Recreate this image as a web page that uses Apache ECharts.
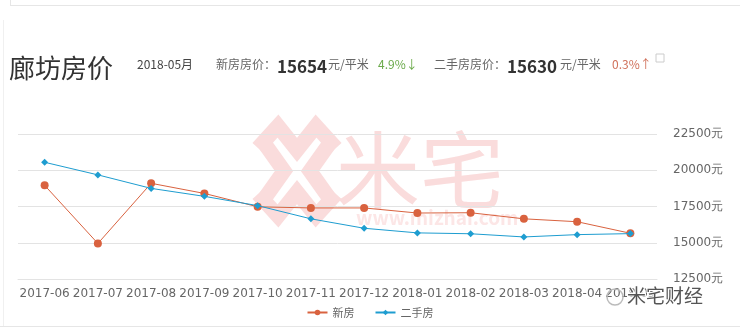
<!DOCTYPE html>
<html><head><meta charset="utf-8">
<script src="https://cdn.jsdelivr.net/npm/echarts@6/dist/echarts.min.js"></script>
<style>html,body{margin:0;padding:0;background:#fff}#c{width:740px;height:329px}</style>
</head><body><div id="c"></div>
<script>
const categories = ['2017-06','2017-07','2017-08','2017-09','2017-10','2017-11','2017-12','2018-01','2018-02','2018-03','2018-04','2018-05'];
const newHouse = [18960, 14950, 19100, 18400, 17480, 17400, 17400, 17050, 17070, 16650, 16450, 15654];
const secondHand = [20550, 19680, 18750, 18200, 17560, 16650, 16000, 15680, 15620, 15400, 15560, 15630];
const seriesNames = ['新房', '二手房'];
const yTicks = {min: 12500, max: 22500, interval: 2500};

const chart = echarts.init(document.getElementById('c'));
const F = '"Noto Sans CJK SC","Noto Sans",sans-serif';
function t(x, y, text, size, color, weight){
  return {type:'text', left:x, top:y, style:{text:text, font:(weight||'normal')+' '+size+'px '+F, fill:color, textVerticalAlign:'middle'}, z:10};
}
const wm = '#fadcdc';
chart.setOption({
  animation:false,
  backgroundColor:'#fff',
  grid:{left:18, right:83, top:134, bottom:50},
  legend:{bottom:6, left:'center', itemWidth:20, itemHeight:7, itemGap:20,
    textStyle:{color:'#666', fontSize:11, fontFamily:F}, data:seriesNames},
  xAxis:{type:'category', data:categories, boundaryGap:true,
    axisLine:{lineStyle:{color:'#e3e3e3'}},
    axisTick:{inside:true, length:9, alignWithLabel:true, lineStyle:{color:'#dcdcdc'}},
    axisLabel:{color:'#666', fontSize:12, margin:9, fontFamily:'"DejaVu Sans",sans-serif', interval:0}},
  yAxis:{type:'value', position:'right', min:yTicks.min, max:yTicks.max, interval:yTicks.interval,
    axisLine:{show:false}, axisTick:{show:false},
    splitLine:{lineStyle:{color:'#e3e3e3'}},
    axisLabel:{color:'#666', fontSize:12, margin:16, fontFamily:'"DejaVu Sans",sans-serif', formatter:function(v){return v + '元';}}},
  series:[
    {name:seriesNames[0], type:'line', data:newHouse, symbol:'circle', symbolSize:8,
      itemStyle:{color:'#d9623f'}, lineStyle:{width:1, color:'#d9623f'}, z:3},
    {name:seriesNames[1], type:'line', data:secondHand, symbol:'diamond', symbolSize:7,
      itemStyle:{color:'#1e9dd0'}, lineStyle:{width:1, color:'#1e9dd0'}, z:4}
  ],
  graphic:[
    {type:'line', shape:{x1:10,y1:5.5,x2:740,y2:5.5}, style:{stroke:'#e6e6e6',lineWidth:1}},
    {type:'line', shape:{x1:10.5,y1:0,x2:10.5,y2:5}, style:{stroke:'#e6e6e6',lineWidth:1}},
    {type:'line', shape:{x1:3.5,y1:20,x2:3.5,y2:326}, style:{stroke:'#f0f0f0',lineWidth:1}},
    {type:'line', shape:{x1:0,y1:326.5,x2:740,y2:326.5}, style:{stroke:'#e6e6e6',lineWidth:1}},
    // watermark logo
    {type:'polyline', shape:{points:[[258,148],[278,126],[297,150],[316,126],[336,148]]}, style:{stroke:wm,lineWidth:15,fill:null}, z:-1},
    {type:'polyline', shape:{points:[[258,194],[278,216],[297,192],[316,216],[336,194]]}, style:{stroke:wm,lineWidth:15,fill:null}, z:-1},
    {type:'polyline', shape:{points:[[262,140],[284,171],[262,202]]}, style:{stroke:wm,lineWidth:15,fill:null}, z:-1},
    {type:'polyline', shape:{points:[[332,140],[310,171],[332,202]]}, style:{stroke:wm,lineWidth:15,fill:null}, z:-1},
    {type:'text', left:336, top:128, style:{text:'米宅', font:'normal 84px '+F, fill:wm}, z:-1},
    {type:'text', left:356, top:208, style:{text:'www.mizhai.com', font:'bold 19px '+F, fill:'#fce6e6'}, z:-1},
    // wechat watermark
    {type:'circle', shape:{cx:615,cy:297,r:8}, style:{fill:null,stroke:'#bbb',lineWidth:1.5}, z:10},
    {type:'text', left:626, top:285, style:{text:'米宅财经', font:'19px '+F, fill:'#555', stroke:'#fff', lineWidth:2}, z:10},
    // header
    t(9, 55, '廊坊房价', 26, '#333'),
    t(137, 58, '2018-05月', 12, '#444'),
    t(216, 58, '新房房价：', 12, '#666'),
    t(277, 58, '15654', 17, '#333', 'bold'),
    t(328, 58, '元/平米', 12, '#666'),
    t(378, 58, '4.9%↓', 12, '#6aaa4a'),
    t(434, 58, '二手房房价：', 12, '#666'),
    t(507, 58, '15630', 17, '#333', 'bold'),
    t(560, 58, '元/平米', 12, '#666'),
    t(612, 58, '0.3%↑', 12, '#d0705a'),
    {type:'rect', shape:{x:656,y:54,width:8,height:8}, style:{fill:null,stroke:'#ccc',lineWidth:1}, z:10}
  ]
});
</script></body></html>
